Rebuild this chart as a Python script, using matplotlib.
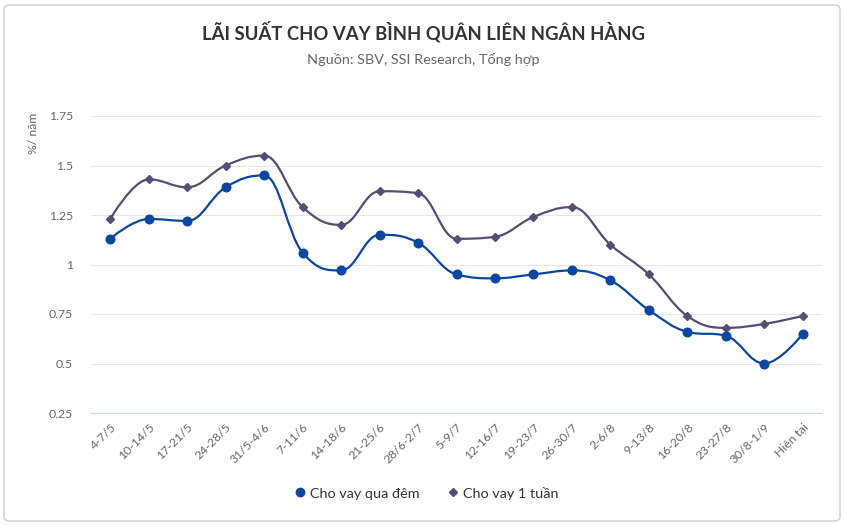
import matplotlib
matplotlib.use("Agg")
import matplotlib.pyplot as plt
import numpy as np
from matplotlib.path import Path
from matplotlib.patches import PathPatch, FancyBboxPatch
from matplotlib.lines import Line2D

categories = ["4-7/5", "10-14/5", "17-21/5", "24-28/5", "31/5-4/6", "7-11/6", "14-18/6",
              "21-25/6", "28/6-2/7", "5-9/7", "12-16/7", "19-23/7", "26-30/7", "2-6/8",
              "9-13/8", "16-20/8", "23-27/8", "30/8-1/9", "Hiện tại"]
overnight = [1.13, 1.23, 1.22, 1.39, 1.45, 1.06, 0.97, 1.15, 1.11, 0.95, 0.93, 0.95, 0.97,
             0.92, 0.77, 0.66, 0.64, 0.50, 0.65]
one_week = [1.23, 1.43, 1.39, 1.50, 1.55, 1.29, 1.20, 1.37, 1.36, 1.13, 1.14, 1.24, 1.29,
            1.10, 0.95, 0.74, 0.68, 0.70, 0.74]
y_ticks = [0.25, 0.5, 0.75, 1, 1.25, 1.5, 1.75]
y_tick_labels = ["0.25", "0.5", "0.75", "1", "1.25", "1.5", "1.75"]
series_names = ["Cho vay qua đêm", "Cho vay 1 tuần"]
title = "LÃI SUẤT CHO VAY BÌNH QUÂN LIÊN NGÂN HÀNG"
subtitle = "Nguồn: SBV, SSI Research, Tổng hợp"
y_title = "%/ năm"

plt.rcParams['font.family'] = ['Lato', 'DejaVu Sans']

W, H = 846, 525
fig = plt.figure(figsize=(W / 100, H / 100), dpi=100)

# card border
card = FancyBboxPatch((4 / W, 4 / H), (W - 10) / W, (H - 9) / H,
                      boxstyle="round,pad=0,rounding_size=0.008",
                      transform=fig.transFigure, facecolor="white",
                      edgecolor="#cccccc", linewidth=1.0, zorder=-10)
fig.patches.append(card)

ax = fig.add_axes([91 / W, 1 - 413 / H, (822 - 91) / W, (413 - 116) / H])
ax.set_facecolor("none")
ax.set_zorder(5)


def spline_path(xs, ys, smoothing=1.5):
    n = len(xs)
    lc = [None] * n
    rc = [None] * n
    denom = smoothing + 1
    for i in range(1, n - 1):
        px, py = xs[i], ys[i]
        lx, ly = xs[i - 1], ys[i - 1]
        nx, ny = xs[i + 1], ys[i + 1]
        lcx = (smoothing * px + lx) / denom
        lcy = (smoothing * py + ly) / denom
        rcx = (smoothing * px + nx) / denom
        rcy = (smoothing * py + ny) / denom
        if rcx != lcx:
            corr = ((rcy - lcy) * (rcx - px)) / (rcx - lcx) + py - rcy
            lcy += corr
            rcy += corr
        if lcy > ly and lcy > py:
            lcy = max(ly, py)
            rcy = 2 * py - lcy
        elif lcy < ly and lcy < py:
            lcy = min(ly, py)
            rcy = 2 * py - lcy
        if rcy > ny and rcy > py:
            rcy = max(ny, py)
            lcy = 2 * py - rcy
        elif rcy < ny and rcy < py:
            rcy = min(ny, py)
            lcy = 2 * py - rcy
        lc[i] = (lcx, lcy)
        rc[i] = (rcx, rcy)
    verts = [(xs[0], ys[0])]
    codes = [Path.MOVETO]
    for i in range(1, n):
        c1 = rc[i - 1] if rc[i - 1] is not None else (xs[i - 1], ys[i - 1])
        c2 = lc[i] if lc[i] is not None else (xs[i], ys[i])
        verts += [c1, c2, (xs[i], ys[i])]
        codes += [Path.CURVE4] * 3
    return Path(verts, codes)


x = np.arange(len(categories))
blue = "#0b47a1"
purple = "#584c74"

ax.add_patch(PathPatch(spline_path(list(x), one_week), facecolor="none",
                       edgecolor=purple, linewidth=1.6, zorder=3))
ax.plot(x, one_week, linestyle="none", marker="D", markersize=4.2, color=purple, zorder=4)
ax.add_patch(PathPatch(spline_path(list(x), overnight), facecolor="none",
                       edgecolor=blue, linewidth=1.6, zorder=5))
ax.plot(x, overnight, linestyle="none", marker="o", markersize=6.2, color=blue, zorder=6)

ax.set_xlim(-0.5, len(categories) - 0.5)
ax.set_ylim(0.25, 1.75)
ax.set_yticks(y_ticks)
ax.set_yticklabels(y_tick_labels)
ax.set_xticks(x)
ax.set_xticklabels(categories, rotation=45, ha="right", rotation_mode="anchor")
ax.grid(axis="y", color="#e6e6e6", linewidth=0.8)
ax.set_axisbelow(True)
for s in ["top", "right", "left"]:
    ax.spines[s].set_visible(False)
ax.spines["bottom"].set_color("#ccd6eb")
ax.spines["bottom"].set_linewidth(0.8)
ax.tick_params(axis="y", length=0, pad=13, labelsize=8.8, labelcolor="#666666")
ax.tick_params(axis="x", length=0, pad=6, labelsize=8.8, labelcolor="#666666")

fig.text(423 / W, 1 - 32 / H, title, ha="center", va="center", fontsize=13.3,
         fontweight="bold", color="#333333")
fig.text(423 / W, 1 - 59 / H, subtitle, ha="center", va="center", fontsize=10.4,
         color="#666666")
fig.text(33 / W, 1 - 133 / H, y_title, ha="center", va="center", rotation=90,
         fontsize=8.8, color="#666666")

handles = [Line2D([], [], linestyle="none", marker="o", markersize=6, color=blue),
           Line2D([], [], linestyle="none", marker="D", markersize=4.5, color=purple)]
fig.legend(handles, series_names, loc="center", bbox_to_anchor=(426 / W, 1 - 493 / H),
           ncol=2, frameon=False, fontsize=10.4, handletextpad=0.2, columnspacing=1.8,
           labelcolor="#333333", handlelength=1.0)

fig.savefig("out.png", dpi=100, facecolor="white")
